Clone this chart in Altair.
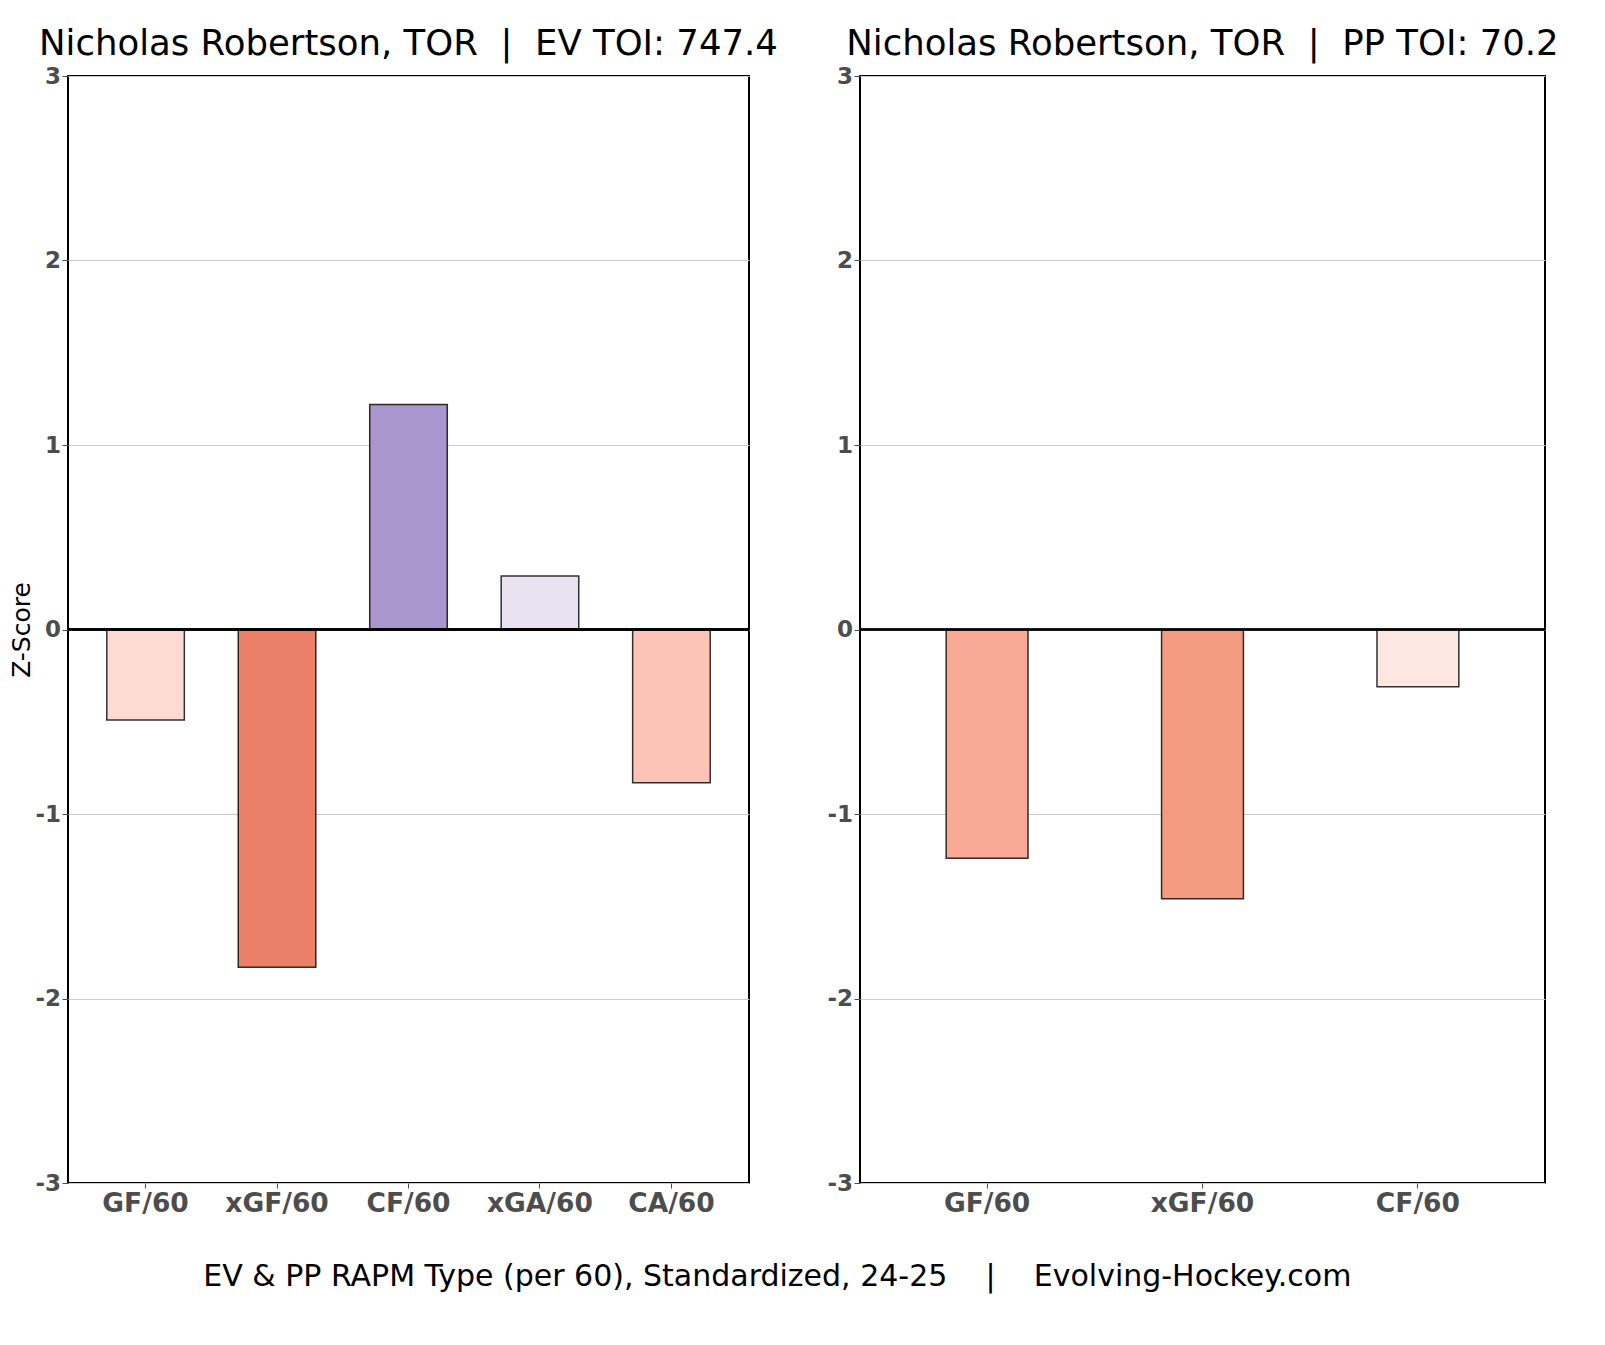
import altair as alt
import pandas as pd

ev_metrics = ["GF/60", "xGF/60", "CF/60", "xGA/60", "CA/60"]
ev_values = [-0.49, -1.83, 1.22, 0.29, -0.83]
ev_colors = ["#fddbd2", "#ec7f68", "#a996cc", "#e9e3f1", "#fcc4b6"]

pp_metrics = ["GF/60", "xGF/60", "CF/60"]
pp_values = [-1.24, -1.46, -0.31]
pp_colors = ["#f9aa97", "#f49b84", "#fde7e1"]

y_ticks = [-3, -2, -1, 0, 1, 2, 3]

NB = "\u00a0"
ev_title = "Nicholas Robertson, TOR" + NB * 2 + "|" + NB * 2 + "EV TOI: 747.4"
pp_title = "Nicholas Robertson, TOR" + NB * 2 + "|" + NB * 2 + "PP TOI: 70.2"
caption = "EV & PP RAPM Type (per 60), Standardized, 24-25" + NB * 4 + "|" + NB * 4 + "Evolving-Hockey.com"

FONT = "DejaVu Sans"

ev_df = pd.DataFrame({"metric": ev_metrics, "value": ev_values, "color": ev_colors})
pp_df = pd.DataFrame({"metric": pp_metrics, "value": pp_values, "color": pp_colors})


def panel(df, metrics, title, width, pin, pout, y_title):
    yargs = dict(
        values=y_ticks, labelExpr="replace(format(datum.value, 'd'), '\u2212', '-')",
        grid=True, gridColor="#cccccc", gridWidth=1,
        labelFont=FONT, labelFontSize=23, labelFontWeight="bold", labelColor="#4d4d4d",
        labelPadding=1.5, tickSize=6, tickColor="#4d4d4d", domain=False,
    )
    if y_title:
        yaxis = alt.Axis(title=y_title, titleFont=FONT, titleFontSize=25,
                         titleFontWeight="normal", titleColor="#000000",
                         titlePadding=0, **yargs)
    else:
        yaxis = alt.Axis(title=None, **yargs)
    xaxis = alt.Axis(
        labelFont=FONT, labelFontSize=26.5, labelFontWeight="bold", labelColor="#4d4d4d",
        labelAngle=0, labelPadding=2, tickSize=5, tickColor="#4d4d4d", domain=False,
        title=None,
    )
    base = alt.Chart(df)
    bars = base.mark_bar(stroke="#000000", strokeWidth=1.5, strokeOpacity=0.8).encode(
        x=alt.X("metric:N", sort=metrics, axis=xaxis,
                scale=alt.Scale(paddingInner=pin, paddingOuter=pout)),
        y=alt.Y("value:Q", axis=yaxis, scale=alt.Scale(domain=[-3, 3], nice=False)),
        y2=alt.datum(0),
        color=alt.Color("color:N", scale=None),
    )
    zero = alt.Chart(df).mark_rule(color="#000000", strokeWidth=2).encode(y=alt.datum(0))
    return alt.layer(bars, zero).properties(
        width=width, height=1107,
        title=alt.TitleParams(title, font=FONT, fontSize=35.5, fontWeight="normal",
                              color="#000000", anchor="middle", offset=3),
    )


left = panel(ev_df, ev_metrics, ev_title, 681, 0.41, 0.295, "Z-Score")
right = panel(pp_df, pp_metrics, pp_title, 685, 0.62, 0.40, None)

chart = alt.hconcat(left, right, spacing=46).properties(
    title=alt.TitleParams(caption, orient="bottom", font=FONT, fontSize=30,
                          fontWeight="normal", color="#000000", anchor="middle",
                          offset=44, dx=-7),
    padding={"top": 17, "left": 0, "right": 5, "bottom": 5},
).configure(background="#ffffff").configure_view(
    stroke="#000000", strokeWidth=2
)

chart.save("out.html", embed_options={"renderer": "svg", "actions": False})
